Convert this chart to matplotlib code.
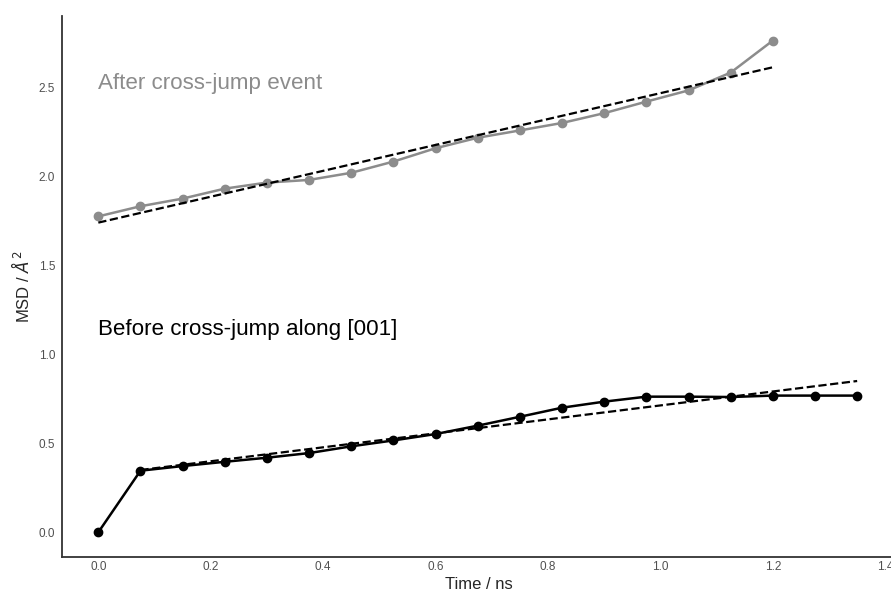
import numpy as np
import matplotlib.pyplot as plt


# ==============================
# Data
# ==============================

time_before = [0.0, 0.075, 0.15, 0.225, 0.3, 0.375, 0.45, 0.525, 0.6, 0.675,
               0.75, 0.825, 0.9, 0.975, 1.05, 1.125, 1.2, 1.275, 1.35]

msd_before = [0.0, 0.346, 0.372, 0.396, 0.419, 0.445, 0.483, 0.516, 0.552, 0.599,
              0.649, 0.700, 0.734, 0.762, 0.762, 0.760, 0.768, 0.768, 0.768]

time_after = [0.0, 0.075, 0.15, 0.225, 0.3, 0.375, 0.45, 0.525, 0.6, 0.675,
              0.75, 0.825, 0.9, 0.975, 1.05, 1.125, 1.2]

msd_after = [1.775, 1.832, 1.875, 1.931, 1.965, 1.980, 2.020, 2.083, 2.158, 2.217,
             2.258, 2.300, 2.355, 2.420, 2.483, 2.583, 2.763]

# linear fits (end points)
fit_before_x = [0.075, 1.35]
fit_before_y = [0.35, 0.85]

fit_after_x = [0.0, 1.2]
fit_after_y = [1.74, 2.613]


# ==============================
# Plot
# ==============================

plt.rcParams["font.family"] = ["Liberation Sans", "DejaVu Sans"]

fig = plt.figure(figsize=(8.91, 5.93), dpi=100)

ax = fig.add_axes([0.0696, 0.0607, 0.935, 0.912])

gray = "#8c8c8c"

ax.plot(time_after, msd_after, color=gray, marker="o",
        markersize=6, linewidth=1.8)

ax.plot(fit_after_x, fit_after_y, color="black",
        linestyle="--", linewidth=1.6)

ax.plot(time_before, msd_before, color="black", marker="o",
        markersize=6, linewidth=1.8)

ax.plot(fit_before_x, fit_before_y, color="black",
        linestyle="--", linewidth=1.6)


ax.text(0.0, 2.52, "After cross-jump event", color=gray,
        fontsize=16.1, va="center", ha="left")

ax.text(0.0, 1.14, "Before cross-jump along [001]", color="black",
        fontsize=16.1, va="center", ha="left")


ax.set_xlim(-0.0646, 1.4175)
ax.set_ylim(-0.139, 2.90)

ax.set_xticks([0.0, 0.2, 0.4, 0.6, 0.8, 1.0, 1.2, 1.4])
ax.set_yticks([0.0, 0.5, 1.0, 1.5, 2.0, 2.5])

ax.tick_params(axis="both", length=0, labelsize=8.5, labelcolor="#505050")
ax.tick_params(axis="x", pad=3)
ax.tick_params(axis="y", pad=5)

ax.set_xlabel("Time / ns", fontsize=12, color="#262626", labelpad=3)
ax.set_ylabel("MSD / $\\AA^2$", fontsize=12, color="#262626", labelpad=5)

for side in ["top", "right"]:
    ax.spines[side].set_visible(False)

for side in ["left", "bottom"]:
    ax.spines[side].set_color("#333333")
    ax.spines[side].set_linewidth(1.3)


fig.savefig("out.png", dpi=100)

plt.close()
